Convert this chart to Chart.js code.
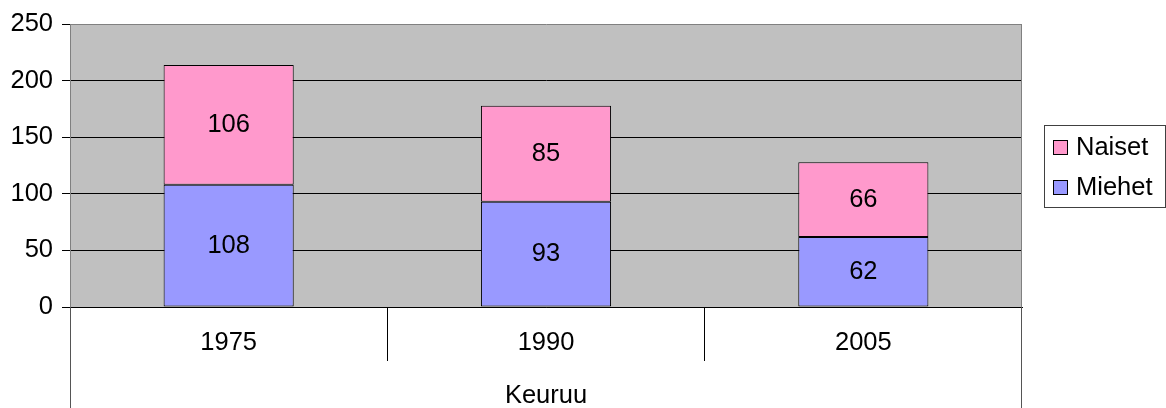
<!DOCTYPE html>
<html>
<head>
<meta charset="utf-8">
<script src="https://cdn.jsdelivr.net/npm/chart.js@4.4.1/dist/chart.umd.min.js"></script>
<style>
  html, body { margin: 0; padding: 0; background: #ffffff; }
  #wrap { width: 1166px; height: 408px; }
</style>
</head>
<body>
<div id="wrap"><canvas id="c" width="1166" height="408"></canvas></div>
<script>
const years = ['1975', '1990', '2005'];
const groupLabels = ['Keuruu'];
const miehet = [108, 93, 62];
const naiset = [106, 85, 66];
const seriesNames = ['Miehet', 'Naiset'];
const yTicks = [0, 50, 100, 150, 200, 250];

const FONT = '"Liberation Sans", Arial, sans-serif';
const FS = 25.5;
const LH = FS * 1.2;
const CLEAR = 'rgba(0,0,0,0)';

const plotBg = {
  id: 'plotBg',
  beforeDraw(chart) {
    const a = chart.chartArea, ctx = chart.ctx;
    ctx.save();
    ctx.fillStyle = '#C0C0C0';
    ctx.fillRect(a.left, a.top, a.right - a.left, a.bottom - a.top);
    ctx.restore();
  },
  afterDraw(chart) {
    const a = chart.chartArea, ctx = chart.ctx;
    const xs = chart.scales.x, x2 = chart.scales.x2;
    ctx.save();
    ctx.strokeStyle = '#808080';
    ctx.lineWidth = 1;
    ctx.beginPath();
    ctx.moveTo(Math.round(a.right) - 0.5, a.top);
    ctx.lineTo(Math.round(a.right) - 0.5, a.bottom);
    ctx.stroke();
    // outer edges of the category axis, running through both label rows
    ctx.strokeStyle = '#555';
    [xs.left, xs.right].forEach((px, k) => {
      const p = Math.round(px) + (k === 0 ? 0.5 : -0.5);
      ctx.beginPath();
      ctx.moveTo(p, xs.top);
      ctx.lineTo(p, x2.bottom);
      ctx.stroke();
    });
    ctx.restore();
  }
};

const barLabels = {
  id: 'barLabels',
  afterDatasetsDraw(chart) {
    const ctx = chart.ctx;
    ctx.save();
    ctx.font = FS + 'px ' + FONT;
    ctx.fillStyle = '#000';
    ctx.textAlign = 'center';
    ctx.textBaseline = 'middle';
    chart.data.datasets.forEach((ds, di) => {
      const meta = chart.getDatasetMeta(di);
      meta.data.forEach((el, i) => {
        const cy = (el.y + el.base) / 2;
        ctx.fillText(String(ds.data[i]), el.x, cy);
      });
    });
    ctx.restore();
  }
};

const boxLegend = {
  id: 'boxLegend',
  afterDraw(chart) {
    const a = chart.chartArea, ctx = chart.ctx;
    const x = a.right + 22, w = 121, h = 82;
    const cy = (a.top + a.bottom) / 2;
    const y = Math.round(cy - h / 2);
    ctx.save();
    ctx.fillStyle = '#fff';
    ctx.fillRect(x, y, w, h);
    ctx.strokeStyle = '#404040';
    ctx.lineWidth = 1;
    ctx.strokeRect(x + 0.5, y + 0.5, w, h);
    const items = chart.data.datasets.slice().reverse();
    ctx.font = FS + 'px ' + FONT;
    ctx.textBaseline = 'middle';
    ctx.textAlign = 'left';
    items.forEach((ds, k) => {
      const rowY = y + 22 + k * 40;
      ctx.fillStyle = ds.backgroundColor;
      ctx.fillRect(x + 9, rowY - 7, 14, 14);
      ctx.strokeStyle = '#000';
      ctx.strokeRect(x + 9.5, rowY - 6.5, 14, 14);
      ctx.fillStyle = '#000';
      ctx.fillText(ds.label, x + 32, rowY + 1);
    });
    ctx.restore();
  }
};

new Chart(document.getElementById('c'), {
  type: 'bar',
  data: {
    labels: years,
    datasets: [
      { label: seriesNames[0], data: miehet, backgroundColor: '#9999FF', borderColor: '#000', borderWidth: 1, borderSkipped: false },
      { label: seriesNames[1], data: naiset, backgroundColor: '#FF99CC', borderColor: '#000', borderWidth: 1, borderSkipped: false }
    ]
  },
  options: {
    responsive: false,
    animation: false,
    devicePixelRatio: 1,
    layout: { padding: { top: 22, right: 144, left: 0, bottom: 0 } },
    plugins: { legend: { display: false }, tooltip: { enabled: false } },
    datasets: { bar: { categoryPercentage: 1, barPercentage: 0.41 } },
    scales: {
      x: {
        stacked: true,
        offset: true,
        position: 'bottom',
        grid: {
          offset: true,
          drawOnChartArea: false,
          tickLength: 54,
          color: (c) => (c.index === undefined || c.index === 0 || c.index >= years.length) ? CLEAR : '#000'
        },
        border: { display: true, color: '#000', width: 1 },
        ticks: { font: { family: FONT, size: FS }, color: '#000', padding: 343 - 307 - 54 - LH / 2, maxRotation: 0 },
        afterFit: (s) => { s.height = 54; }
      },
      x2: {
        type: 'category',
        labels: groupLabels,
        offset: true,
        position: 'bottom',
        grid: { offset: true, drawOnChartArea: false, tickLength: 47, color: CLEAR },
        border: { display: false },
        ticks: { font: { family: FONT, size: FS }, color: '#000', padding: 396 - 361 - 47 - LH / 2, maxRotation: 0 },
        afterFit: (s) => { s.height = 47; }
      },
      y: {
        stacked: true,
        min: 0,
        max: 250,
        afterBuildTicks: (s) => { s.ticks = yTicks.map(v => ({ value: v })); },
        grid: {
          color: (c) => (c.tick && c.tick.value === 250) ? '#808080' : '#000',
          tickColor: '#000',
          tickLength: 8
        },
        border: { display: true, color: '#808080', width: 1 },
        ticks: { font: { family: FONT, size: FS }, color: '#000', padding: 9 },
        afterFit: (s) => { s.width = 70; }
      }
    }
  },
  plugins: [plotBg, barLabels, boxLegend]
});
</script>
</body>
</html>
